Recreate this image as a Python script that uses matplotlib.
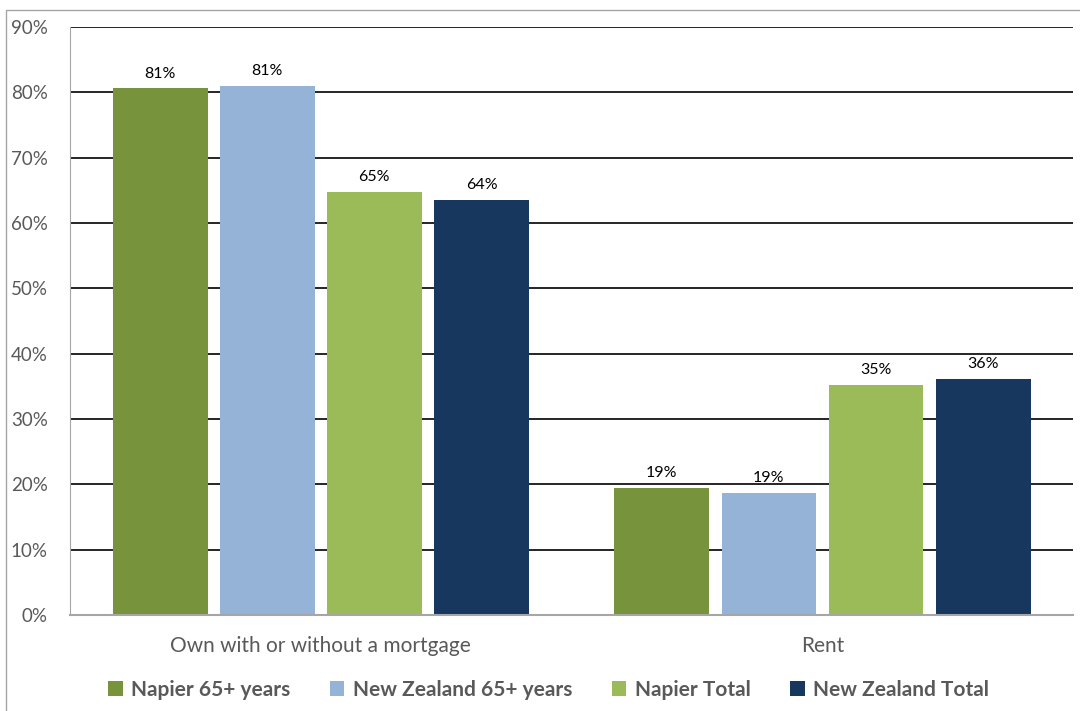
import numpy as np
import matplotlib
matplotlib.use("Agg")
import matplotlib.pyplot as plt
from matplotlib.patches import Rectangle

plt.rcParams['font.family'] = ['Lato', 'DejaVu Sans']

categories = ["Own with or without a mortgage", "Rent"]
series = ["Napier 65+ years", "New Zealand 65+ years", "Napier Total", "New Zealand Total"]
napier_65 = [80.6, 19.4]
nz_65 = [81.0, 18.7]
napier_total = [64.8, 35.2]
nz_total = [63.5, 36.1]
colors = ["#77933c", "#95b3d7", "#9bbb59", "#17375e"]

values = [napier_65, nz_65, napier_total, nz_total]

fig = plt.figure(figsize=(10.8, 7.11), dpi=100)
fig.patches.append(Rectangle((0.0055, -0.01), 1.0, 1.0 - 0.0045, transform=fig.transFigure,
                             fill=False, edgecolor="#a6a6a6", linewidth=1))
ax = fig.add_axes([0.0648, 0.135, 0.929, 0.827])

x = np.arange(len(categories))
step = 0.2135
width = 0.189
for i, (name, vals, c) in enumerate(zip(series, values, colors)):
    pos = x + (i - 1.5) * step
    bars = ax.bar(pos, vals, width, color=c, label=name, zorder=3)
    for b, v in zip(bars, vals):
        ax.text(b.get_x() + b.get_width() / 2, v + 1.2, "{:.0f}%".format(v),
                ha="center", va="bottom", fontsize=11.5, color="black", zorder=4)

ax.set_xlim(-0.5, 1.5)
ax.set_ylim(0, 90)
ax.set_yticks(np.arange(0, 91, 10))
ax.set_yticklabels(["{}%".format(t) for t in range(0, 91, 10)], fontsize=13.5, color="#595959")
ax.set_xticks(x)
ax.set_xticklabels(categories, fontsize=15, color="#595959")
ax.tick_params(axis="both", length=0)
ax.tick_params(axis="x", pad=15)
ax.tick_params(axis="y", pad=16)
ax.yaxis.grid(True, color="black", linewidth=1.2, zorder=0)
ax.set_axisbelow(True)
for s in ["top", "right"]:
    ax.spines[s].set_visible(False)
ax.spines["left"].set_color("#a6a6a6")
ax.spines["bottom"].set_color("#a6a6a6")
ax.spines["bottom"].set_linewidth(1.5)
ax.spines["bottom"].set_zorder(5)

leg = ax.legend(loc="upper center", bbox_to_anchor=(0.477, -0.078), ncol=4, frameon=False,
                prop={"size": 15, "weight": "bold"}, handlelength=0.7, handleheight=0.7,
                handletextpad=0.4, columnspacing=1.9)
for t in leg.get_texts():
    t.set_color("#595959")

fig.savefig("out.png", dpi=100)
